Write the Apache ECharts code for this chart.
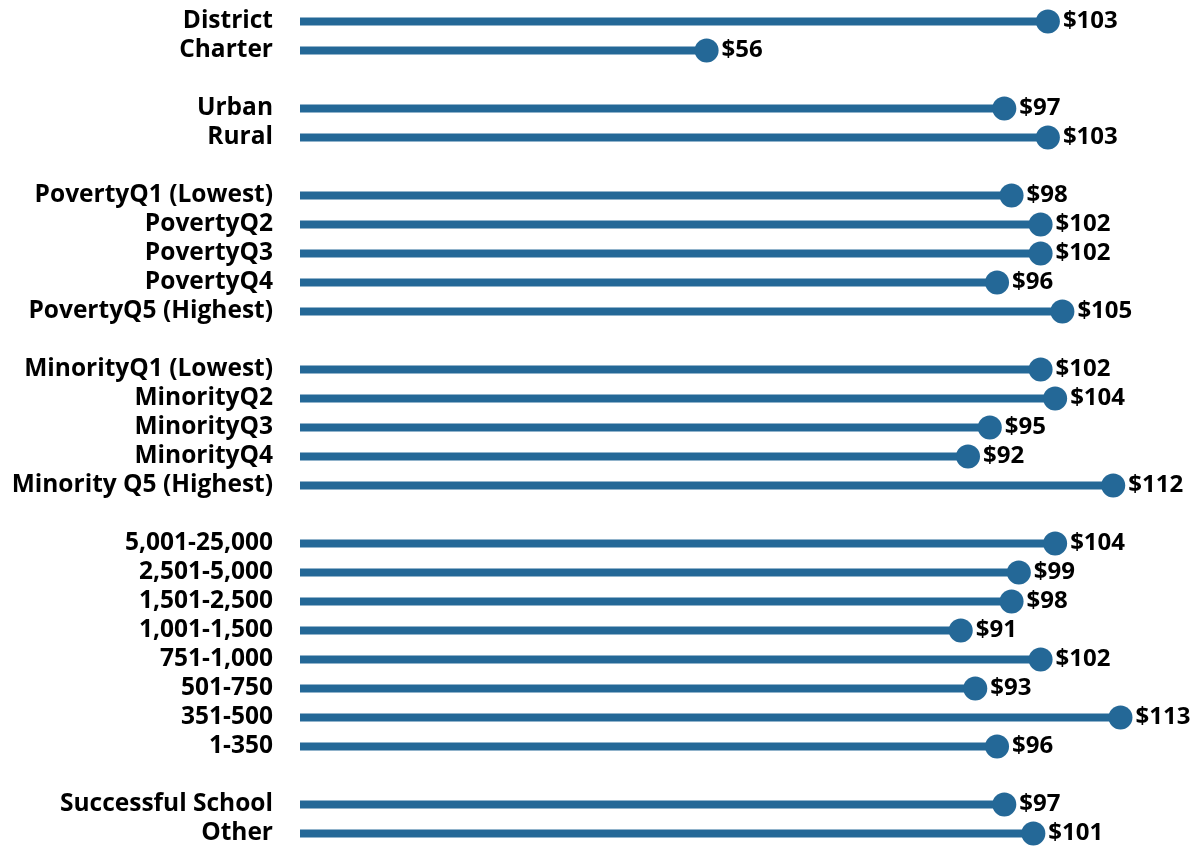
<!DOCTYPE html>
<html>
<head>
<meta charset="utf-8">
<script src="https://cdn.jsdelivr.net/npm/echarts@6/dist/echarts.min.js"></script>
<style>
  html, body { margin: 0; padding: 0; background: #fff; }
  #chart { width: 1196px; height: 848px; }
</style>
</head>
<body>
<div id="chart"></div>
<script>
// Groups are separated by blank rows (empty category names with no value)
const categories = [
  'District', 'Charter', '',
  'Urban', 'Rural', '',
  'PovertyQ1 (Lowest)', 'PovertyQ2', 'PovertyQ3', 'PovertyQ4', 'PovertyQ5 (Highest)', '',
  'MinorityQ1 (Lowest)', 'MinorityQ2', 'MinorityQ3', 'MinorityQ4', 'Minority Q5 (Highest)', '',
  '5,001-25,000', '2,501-5,000', '1,501-2,500', '1,001-1,500', '751-1,000', '501-750', '351-500', '1-350', '',
  'Successful School', 'Other'
];
const values = [
  103, 56, null,
  97, 103, null,
  98, 102, 102, 96, 105, null,
  102, 104, 95, 92, 112, null,
  104, 99, 98, 91, 102, 93, 113, 96, null,
  97, 101
];

const BLUE = '#246897';
const FONT = '"Open Sans", sans-serif';

const chart = echarts.init(document.getElementById('chart'));
chart.setOption({
  animation: false,
  grid: { left: 300, right: 0, top: 7, bottom: -2, containLabel: false },
  xAxis: {
    type: 'value', min: 0, max: 123.4,
    show: false
  },
  yAxis: {
    type: 'category', inverse: true, data: categories,
    axisLine: { show: false }, axisTick: { show: false },
    axisLabel: {
      margin: 27, color: '#000', fontFamily: FONT, fontWeight: 'bold', fontSize: 24.5,
      interval: 0
    }
  },
  series: [
    {
      type: 'bar', data: values.map(v => v === null ? '-' : v),
      barWidth: 8, itemStyle: { color: BLUE }, silent: true
    },
    {
      type: 'scatter', data: values.map(v => v === null ? '-' : v),
      symbolSize: 24, itemStyle: { color: BLUE, opacity: 1 },
      label: {
        show: true, position: 'right', distance: 3,
        formatter: p => '$' + p.value,
        color: '#000', fontFamily: FONT, fontWeight: 'bold', fontSize: 24
      }
    }
  ]
});
</script>
</body>
</html>
